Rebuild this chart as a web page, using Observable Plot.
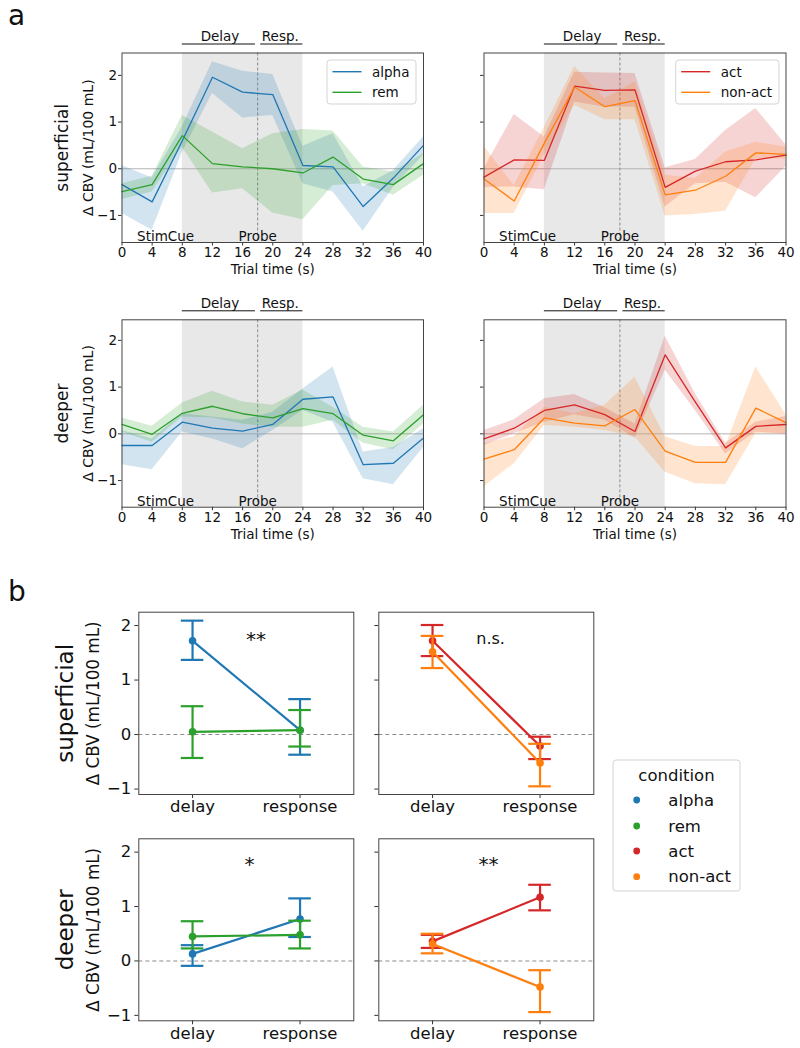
<!DOCTYPE html>
<html><head><meta charset="utf-8">
<script src="https://cdn.jsdelivr.net/npm/d3@7"></script>
<script src="https://cdn.jsdelivr.net/npm/@observablehq/plot@0.6"></script>
<style>
body{margin:0;background:#fff;font-family:"DejaVu Sans",sans-serif;}
#page{position:relative;width:800px;height:1048px;overflow:hidden;background:#fff;}
</style></head><body><div id="page"></div>
<script>
// ---------- shared categories ----------
const time = [0,4,8,12,16,20,24,28,32,36,40];
const yTicks = [-1,0,1,2];
const conditions = ["alpha","rem","act","non-act"];
const condColors = ["#1f77b4","#2ca02c","#d62728","#ff7f0e"];
const phases = ["delay","response"];
const layers = ["superficial","deeper"];
const taskPeriods = [{name:"Delay", start:8, end:17.7, mid:13},{name:"Resp.", start:18.4, end:24, mid:21}];
const shadedSpan = [{start:8, end:24}];
const probeTime = [18];
const events = [{name:"StimCue", t:2},{name:"Probe", t:18}];

// ---------- panel a: time courses (mean, lower, upper) ----------
const supAlphaMean = [-0.34,-0.71,0.60,1.96,1.64,1.59,0.07,0.04,-0.81,-0.20,0.50];
const supAlphaLo   = [-0.96,-1.32,0.35,1.61,1.09,1.14,-0.32,-0.50,-1.34,-0.40,0.29];
const supAlphaHi   = [0.07,-0.20,0.90,2.29,2.09,2.02,0.48,0.75,-0.39,-0.04,0.68];
const supRemMean   = [-0.49,-0.34,0.71,0.11,0.04,0.00,-0.09,0.25,-0.22,-0.34,0.11];
const supRemLo     = [-0.66,-0.50,0.46,-0.52,-0.43,-0.95,-1.09,-0.36,-0.32,-0.57,-0.14];
const supRemHi     = [-0.32,-0.16,1.14,0.79,0.43,0.75,0.84,0.81,0.04,-0.07,0.32];
const supActMean   = [-0.18,0.19,0.18,1.77,1.68,1.69,-0.40,-0.05,0.15,0.19,0.29];
const supActLo     = [-0.40,-0.39,-0.45,1.43,1.32,1.32,-0.82,-0.32,-0.29,-0.62,0.05];
const supActHi     = [0.00,1.16,0.68,2.07,2.05,2.04,0.02,0.20,0.82,1.29,0.51];
const supNonActMean= [-0.22,-0.69,0.55,1.75,1.33,1.46,-0.56,-0.46,-0.16,0.34,0.31];
const supNonActLo  = [-0.96,-0.96,0.29,1.36,1.05,1.05,-1.01,-0.98,-0.91,0.21,0.21];
const supNonActHi  = [0.48,-0.36,0.89,2.19,1.50,1.86,-0.14,-0.21,0.36,0.57,0.46];
const deepAlphaMean= [-0.25,-0.25,0.25,0.12,0.06,0.20,0.74,0.79,-0.66,-0.63,-0.09];
const deepAlphaLo  = [-0.66,-0.77,0.04,-0.11,-0.32,0.07,0.50,0.25,-0.96,-1.09,-0.29];
const deepAlphaHi  = [0.07,-0.11,0.43,0.36,0.29,0.46,0.96,1.43,-0.39,-0.29,0.11];
const deepRemMean  = [0.20,-0.01,0.44,0.59,0.43,0.34,0.54,0.43,-0.03,-0.15,0.41];
const deepRemLo    = [0.04,-0.18,0.36,0.34,0.21,0.14,0.14,0.29,-0.20,-0.34,0.21];
const deepRemHi    = [0.34,0.16,0.66,0.91,0.68,0.61,0.94,0.57,0.14,0.04,0.61];
const deepActMean  = [-0.11,0.12,0.50,0.62,0.41,0.05,1.69,0.68,-0.30,0.16,0.20];
const deepActLo    = [-0.25,0.00,0.25,0.41,0.29,-0.09,1.36,0.50,-0.43,0.04,-0.01];
const deepActHi    = [0.07,0.30,0.75,0.84,0.56,0.21,2.09,0.86,-0.20,0.25,0.37];
const deepNonActMean=[-0.54,-0.34,0.34,0.23,0.17,0.52,-0.37,-0.61,-0.61,0.55,0.24];
const deepNonActLo = [-1.13,-0.64,0.18,0.14,0.07,-0.07,-0.82,-1.07,-1.09,0.00,0.00];
const deepNonActHi = [-0.21,-0.06,0.57,0.43,0.61,1.21,-0.06,-0.27,-0.27,1.43,0.41];

// ---------- panel b: phase means with error bars (delay, response) ----------
const bSupAlphaMean = [1.72,0.08],  bSupAlphaLo = [1.37,-0.37],  bSupAlphaHi = [2.09,0.65];
const bSupRemMean   = [0.05,0.08],  bSupRemLo   = [-0.43,-0.22], bSupRemHi   = [0.52,0.45];
const bSupActMean   = [1.72,-0.21], bSupActLo   = [1.44,-0.45],  bSupActHi   = [2.01,-0.04];
const bSupNonActMean= [1.52,-0.52], bSupNonActLo= [1.22,-0.95],  bSupNonActHi= [1.81,-0.17];
const bDeepAlphaMean= [0.13,0.77],  bDeepAlphaLo= [-0.09,0.44],  bDeepAlphaHi= [0.29,1.15];
const bDeepRemMean  = [0.45,0.48],  bDeepRemLo  = [0.23,0.23],   bDeepRemHi  = [0.73,0.74];
const bDeepActMean  = [0.36,1.17],  bDeepActLo  = [0.24,0.93],   bDeepActHi  = [0.48,1.40];
const bDeepNonActMean=[0.31,-0.48], bDeepNonActLo=[0.14,-0.94],  bDeepNonActHi=[0.50,-0.17];
const sigLabels = ["**","n.s.","*","**"];

// ---------- helpers ----------
const page = document.getElementById("page");
const FONT = "DejaVu Sans";
const minusFmt = d => d < 0 ? "\u2212" + Math.abs(d) : String(d);
const colorScale = {domain: conditions, range: condColors};
function place(el, left, top) {
  const wrap = document.createElement("div");
  wrap.style.position = "absolute"; wrap.style.left = left + "px"; wrap.style.top = top + "px";
  wrap.appendChild(el); page.appendChild(wrap);
}
function mkSeries(cond, mean, lo, hi) { return {cond, mean, lo, hi}; }

function tsPanel({series, yDomain, width, height, mL, mR, mT, mB, rowLabel}) {
  const marks = [
    Plot.rect(shadedSpan, {x1:"start", x2:"end", fill:"#e8e8e8"}),
    Plot.ruleY([0], {stroke:"#b5b5b5", strokeWidth:1}),
    Plot.ruleX(probeTime, {stroke:"#8a8a8a", strokeDasharray:"3,2", strokeWidth:1})
  ];
  const rowsBy = series.map(s => time.map((t,i) => ({t, v:s.mean[i], lo:s.lo[i], hi:s.hi[i], cond:s.cond})));
  rowsBy.forEach(rows => marks.push(Plot.area(rows, {x1:"t", y1:"lo", y2:"hi", fill:"cond", fillOpacity:0.2, curve:"linear"})));
  rowsBy.forEach(rows => marks.push(Plot.line(rows, {x:"t", y:"v", stroke:"cond", strokeWidth:1.3})));
  marks.push(
    Plot.text(events.slice(0,1), {x:"t", text:"name", frameAnchor:"bottom", lineAnchor:"middle", dy:-6, textAnchor:"start", fontSize:13.5}),
    Plot.text(events.slice(1), {x:"t", text:"name", frameAnchor:"bottom", lineAnchor:"middle", dy:-6, textAnchor:"middle", fontSize:13.5}),
    Plot.text(taskPeriods, {x:"mid", text:"name", frameAnchor:"top", lineAnchor:"middle", dy:-16.5, textAnchor:"middle", fontSize:13.5}),
    Plot.ruleY(taskPeriods, {x1:"start", x2:"end", y:() => yDomain[1], dy:-9, stroke:"#111", strokeWidth:1}),
    Plot.axisX({ticks: time, tickSize:3.5, tickPadding:1.5, fontSize:13.5, label:null, stroke:"#333"}),
    Plot.axisY({ticks: yTicks, tickSize:3.5, tickPadding:1.5, fontSize:13.5, label:null, stroke:"#333",
      tickFormat: rowLabel ? minusFmt : () => ""}),
    Plot.text(["Trial time (s)"], {text:d=>d, frameAnchor:"bottom", lineAnchor:"middle", textAnchor:"middle", dy:27, fontSize:13.5}),
    Plot.frame({stroke:"#444", strokeWidth:1})
  );
  if (rowLabel) {
    marks.push(
      Plot.text([rowLabel], {text:d=>d, frameAnchor:"left", textAnchor:"middle", lineAnchor:"middle", dx:-59.5, rotate:-90, fontSize:17}),
      Plot.text(["\u0394 CBV (mL/100 mL)"], {text:d=>d, frameAnchor:"left", textAnchor:"middle", lineAnchor:"middle", dx:-33.5, rotate:-90, fontSize:14})
    );
  }
  return Plot.plot({
    width, height, marginLeft:mL, marginRight:mR, marginTop:mT, marginBottom:mB,
    x:{domain:[0,40]}, y:{domain:yDomain}, color:colorScale,
    style:{background:"transparent", overflow:"visible", fontFamily:FONT, fontSize:"13.5px", color:"#111"},
    marks
  });
}

const capHalf = 0.105;
function ptPanel({series, width, height, mL, mR, mT, mB, rowLabel, sig, sigX, sigY, sigSize}) {
  const yDomain = [-1.1, 2.245];
  const marks = [Plot.ruleY([0], {stroke:"#8c8c8c", strokeDasharray:"4,3", strokeWidth:1.1})];
  series.forEach(s => {
    const rows = phases.map((p,i) => ({xi:i, v:s.mean[i], lo:s.lo[i], hi:s.hi[i], cond:s.cond}));
    marks.push(
      Plot.line(rows, {x:"xi", y:"v", stroke:"cond", strokeWidth:2.2}),
      Plot.ruleX(rows, {x:"xi", y1:"lo", y2:"hi", stroke:"cond", strokeWidth:2.2}),
      Plot.ruleY(rows, {y:"hi", x1:d=>d.xi-capHalf, x2:d=>d.xi+capHalf, stroke:"cond", strokeWidth:2.2}),
      Plot.ruleY(rows, {y:"lo", x1:d=>d.xi-capHalf, x2:d=>d.xi+capHalf, stroke:"cond", strokeWidth:2.2}),
      Plot.dot(rows, {x:"xi", y:"v", fill:"cond", r:3.8})
    );
  });
  marks.push(
    Plot.text([sig], {text:d=>d, x:()=>sigX, y:()=>sigY, fontSize:sigSize}),
    Plot.axisX({ticks:[0,1], tickFormat:i => phases[i], tickSize:4, tickPadding:2, fontSize:16.5, label:null, stroke:"#333"}),
    Plot.axisY({ticks:yTicks, tickSize:4, tickPadding:3.5, fontSize:16.5, label:null, stroke:"#333",
      tickFormat: rowLabel ? minusFmt : () => ""}),
    Plot.frame({stroke:"#444", strokeWidth:1})
  );
  if (rowLabel) {
    marks.push(
      Plot.text([rowLabel], {text:d=>d, frameAnchor:"left", textAnchor:"middle", lineAnchor:"middle", dx:-73.3, rotate:-90, fontSize:23}),
      Plot.text(["\u0394 CBV (mL/100 mL)"], {text:d=>d, frameAnchor:"left", textAnchor:"middle", lineAnchor:"middle", dx:-45.3, rotate:-90, fontSize:16.8})
    );
  }
  return Plot.plot({
    width, height, marginLeft:mL, marginRight:mR, marginTop:mT, marginBottom:mB,
    x:{domain:[-0.5,1.5]}, y:{domain:yDomain}, color:colorScale,
    style:{background:"transparent", overflow:"visible", fontFamily:FONT, fontSize:"16.5px", color:"#111"},
    marks
  });
}

// ---------- panel a ----------
const rowA1 = {yDomain:[-1.58,2.48], height:290, mT:52.5, mB:48};
const rowA2 = {yDomain:[-1.57,2.44], height:292, mT:51.3, mB:53.3};
place(tsPanel({series:[mkSeries("alpha",supAlphaMean,supAlphaLo,supAlphaHi), mkSeries("rem",supRemMean,supRemLo,supRemHi)],
  ...rowA1, width:430, mL:121.5, mR:7, rowLabel:layers[0]}), 0, 0);
place(tsPanel({series:[mkSeries("act",supActMean,supActLo,supActHi), mkSeries("non-act",supNonActMean,supNonActLo,supNonActHi)],
  ...rowA1, width:370, mL:53.5, mR:14.5, rowLabel:null}), 430, 0);
place(tsPanel({series:[mkSeries("alpha",deepAlphaMean,deepAlphaLo,deepAlphaHi), mkSeries("rem",deepRemMean,deepRemLo,deepRemHi)],
  ...rowA2, width:430, mL:121.5, mR:7, rowLabel:layers[1]}), 0, 268);
place(tsPanel({series:[mkSeries("act",deepActMean,deepActLo,deepActHi), mkSeries("non-act",deepNonActMean,deepNonActLo,deepNonActHi)],
  ...rowA2, width:370, mL:53.5, mR:14.5, rowLabel:null}), 430, 268);

// ---------- panel b ----------
place(ptPanel({series:[mkSeries("alpha",bSupAlphaMean,bSupAlphaLo,bSupAlphaHi), mkSeries("rem",bSupRemMean,bSupRemLo,bSupRemHi)],
  width:370, height:240, mL:138.3, mR:16.7, mT:31.7, mB:26, rowLabel:layers[0], sig:sigLabels[0], sigX:0.59, sigY:1.75, sigSize:20}), 0, 580);
place(ptPanel({series:[mkSeries("act",bSupActMean,bSupActLo,bSupActHi), mkSeries("non-act",bSupNonActMean,bSupNonActLo,bSupNonActHi)],
  width:240, height:240, mL:8.3, mR:16.7, mT:31.7, mB:26, rowLabel:null, sig:sigLabels[1], sigX:0.54, sigY:1.76, sigSize:16}), 370, 580);
place(ptPanel({series:[mkSeries("alpha",bDeepAlphaMean,bDeepAlphaLo,bDeepAlphaHi), mkSeries("rem",bDeepRemMean,bDeepRemLo,bDeepRemHi)],
  width:370, height:238, mL:138.3, mR:16.7, mT:28.3, mB:27.7, rowLabel:layers[1], sig:sigLabels[2], sigX:0.53, sigY:1.77, sigSize:20}), 0, 810);
place(ptPanel({series:[mkSeries("act",bDeepActMean,bDeepActLo,bDeepActHi), mkSeries("non-act",bDeepNonActMean,bDeepNonActLo,bDeepNonActHi)],
  width:240, height:238, mL:8.3, mR:16.7, mT:28.3, mB:27.7, rowLabel:null, sig:sigLabels[3], sigX:0.52, sigY:1.77, sigSize:20}), 370, 810);

// ---------- overlay: panel letters and legends ----------
const ov = d3.select(page).append("svg").attr("width",800).attr("height",1048)
  .style("position","absolute").style("left","0px").style("top","0px")
  .attr("font-family", FONT);
ov.append("text").attr("x",8).attr("y",25).attr("font-size",28).attr("fill","#111").text("a");
ov.append("text").attr("x",8).attr("y",601).attr("font-size",28).attr("fill","#111").text("b");

function lineLegend(left, top, w, h, conds) {
  const g = ov.append("g").attr("transform", `translate(${left},${top})`);
  g.append("rect").attr("width",w).attr("height",h).attr("rx",3).attr("fill","rgba(255,255,255,0.8)").attr("stroke","#d4d4d4");
  conds.forEach((c,i) => {
    const y = 11.7 + i*20.6;
    g.append("line").attr("x1",5.5).attr("x2",34.5).attr("y1",y).attr("y2",y)
      .attr("stroke", condColors[conditions.indexOf(c)]).attr("stroke-width",1.4);
    g.append("text").attr("x",45).attr("y",y).attr("dominant-baseline","central").attr("font-size",13.5).attr("fill","#111").text(c);
  });
}
lineLegend(327, 60, 89, 44, ["alpha","rem"]);
lineLegend(675.7, 60, 103.3, 44, ["act","non-act"]);

(function dotLegend() {
  const g = ov.append("g").attr("transform","translate(613,760)");
  g.append("rect").attr("width",127).attr("height",131).attr("rx",3).attr("fill","rgba(255,255,255,0.8)").attr("stroke","#d4d4d4");
  g.append("text").attr("x",63.5).attr("y",15).attr("text-anchor","middle").attr("dominant-baseline","central")
    .attr("font-size",16.5).attr("fill","#111").text("condition");
  const ys = [40, 66, 91, 116.7];
  conditions.forEach((c,i) => {
    g.append("circle").attr("cx",23.7).attr("cy",ys[i]).attr("r",3.4).attr("fill",condColors[i]);
    g.append("text").attr("x",55.3).attr("y",ys[i]).attr("dominant-baseline","central").attr("font-size",16.5).attr("fill","#111").text(c);
  });
})();
</script></body></html>
